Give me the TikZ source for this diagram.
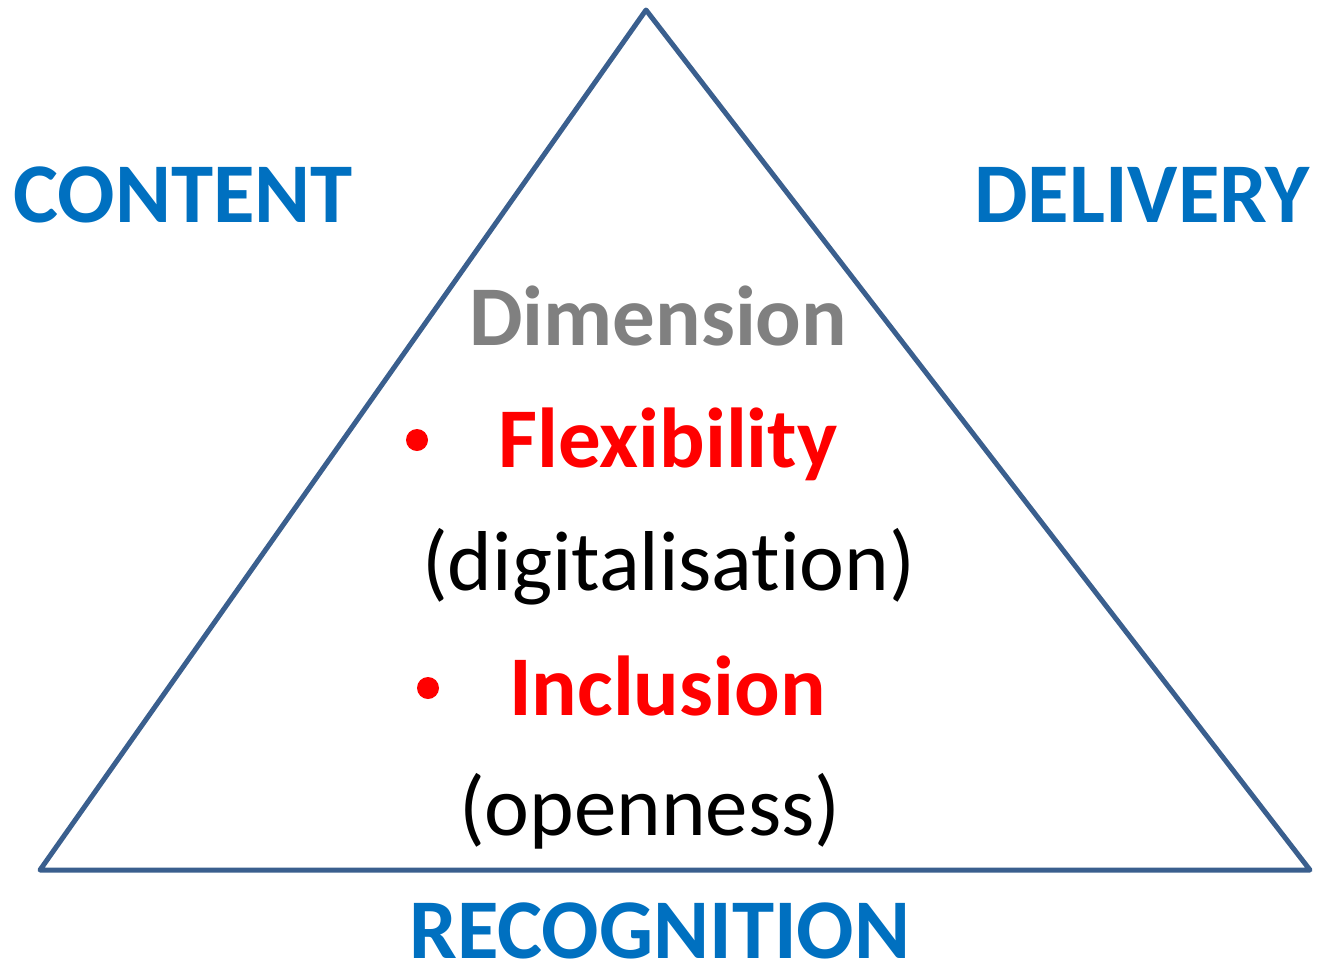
\documentclass[tikz,border=0pt]{standalone}
\usepackage{fontspec}
\setmainfont{Carlito}[Ligatures=NoCommon]
\definecolor{tri}{HTML}{3A5F8E}
\definecolor{hdr}{HTML}{0070C0}
\definecolor{dimg}{HTML}{808080}
\definecolor{redc}{HTML}{FF0000}
\begin{document}
\begin{tikzpicture}[x=1pt,y=-1pt,
  lbl/.style={inner sep=0pt,anchor=base west,font=\fontsize{85}{100}\selectfont\bfseries},
  hdrlbl/.style={lbl,text=hdr},
  redlbl/.style={lbl,text=redc},
  plainlbl/.style={inner sep=0pt,anchor=base west,font=\fontsize{85}{100}\selectfont},
  bul/.style={circle,fill=redc,inner sep=0pt,minimum size=22pt}]
\useasboundingbox (0,0) rectangle (1318,962);
\coordinate (apex) at (646,10);
\coordinate (bl) at (40,870);
\coordinate (br) at (1310,870);
\draw[tri,line width=5pt,line join=round,line cap=round] (apex) -- (br) -- (bl) -- cycle;
\node[hdrlbl] (content) at (13,222) {CONTENT};
\node[hdrlbl] (delivery) at (974,222) {DELIVERY};
\node[hdrlbl] (recog) at (409,958) {RECOGNITION};
\node[lbl,text=dimg] (dim) at (469,345) {Dimension};
\node[bul] (b1) at (417,440) {};
\node[redlbl] (flex) at (498,467) {Flexibility};
\node[plainlbl] (digi) at (422,590) {(digitalisation)};
\node[bul] (b2) at (428,688) {};
\node[redlbl] (incl) at (509,715) {Inclusion};
\node[plainlbl] (open) at (459,835) {(openness)};
\end{tikzpicture}
\end{document}
